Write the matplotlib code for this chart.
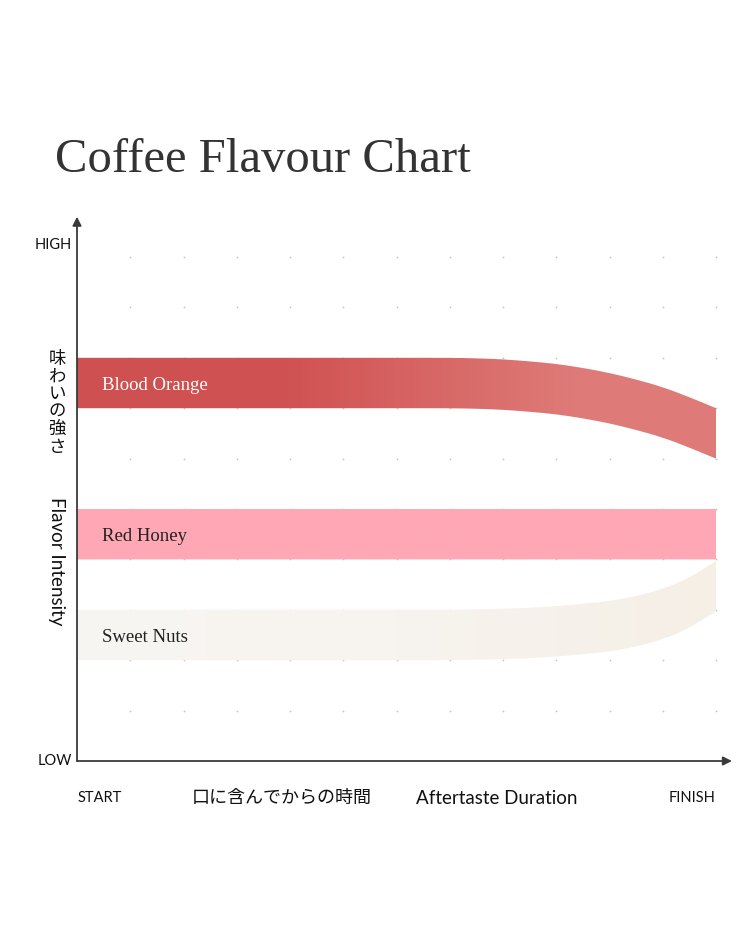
import numpy as np
import matplotlib
matplotlib.use("Agg")
import matplotlib.pyplot as plt
from matplotlib.colors import LinearSegmentedColormap
from matplotlib.path import Path
from matplotlib.patches import PathPatch

# data (x: 0 = start, 12 = finish; y: 0 = low, 10 = high)
x_flat = [0, 1, 2, 3, 4, 5, 6, 7]
x_curve = [7.5, 8, 8.5, 9, 9.5, 10, 10.5, 11, 11.5, 12]
x_pts = x_flat + x_curve

blood_orange_top = [8.0] * 8 + [7.99, 7.97, 7.93, 7.88, 7.80, 7.70, 7.57, 7.42, 7.22, 7.0]
red_honey_top = [5.0] * 18
sweet_nuts_top = [3.0] * 8 + [3.01, 3.02, 3.04, 3.07, 3.12, 3.17, 3.27, 3.41, 3.63, 3.97]

flavours = ["Blood Orange", "Red Honey", "Sweet Nuts"]
band_tops = [blood_orange_top, red_honey_top, sweet_nuts_top]
band_colors = [
    [(0.0, "#cf5050"), (0.33, "#d05252"), (0.78, "#de7b78"), (1.0, "#de7c79")],
    [(0.0, "#ffa8b5"), (1.0, "#ffa8b5")],
    [(0.0, "#f8f6f3"), (0.5, "#f7f3ee"), (1.0, "#f5efe6")],
]
label_colors = ["white", "#222222", "#222222"]
band_thickness = 1.0


def smooth_edge(xs, ys):
    # quadratic bezier through midpoints, using the readings as control points
    verts = [(xs[0], ys[0])]
    codes = []
    for i in range(1, len(xs) - 1):
        mid = ((xs[i] + xs[i + 1]) / 2, (ys[i] + ys[i + 1]) / 2)
        verts += [(xs[i], ys[i]), mid]
        codes += [Path.CURVE3, Path.CURVE3]
    verts.append((xs[-1], ys[-1]))
    codes.append(Path.LINETO)
    return verts, codes


def band_path(xs, top, thick):
    tv, tc = smooth_edge(xs, top)
    bot = [t - thick for t in top]
    bv, bc = smooth_edge(xs[::-1], bot[::-1])
    verts = tv + bv + [tv[0]]
    codes = [Path.MOVETO] + tc + [Path.LINETO] + bc + [Path.CLOSEPOLY]
    return Path(verts, codes)


W, H = 750, 938
fig = plt.figure(figsize=(W / 100, H / 100), dpi=100)
fig.patch.set_facecolor("white")

x_max, y_max = 12.3, 10.8
ax = fig.add_axes([77 / W, 177 / H, x_max * 53.25 / W, y_max * 50.4 / H])
ax.set_xlim(0, x_max)
ax.set_ylim(0, y_max)
ax.axis("off")

# dotted grid
gx, gy = np.meshgrid(np.arange(1, 13), np.arange(1, 11))
ax.scatter(gx.ravel(), gy.ravel(), s=1.6, color="#c4c4c4", linewidths=0, zorder=1)

# bands with horizontal gradients
for name, top, stops, lc in zip(flavours, band_tops, band_colors, label_colors):
    path = band_path(x_pts, top, band_thickness)
    patch = PathPatch(path, facecolor="none", edgecolor="none", transform=ax.transData)
    ax.add_patch(patch)
    cmap = LinearSegmentedColormap.from_list(name, stops)
    grad = np.linspace(0, 1, 256).reshape(1, -1)
    im = ax.imshow(grad, cmap=cmap, extent=[0, 12, 0, 10], aspect="auto",
                   interpolation="bilinear", zorder=2)
    im.set_clip_path(patch)
    ax.text(0.47, top[0] - band_thickness / 2 - 0.05, name, color=lc, fontsize=13.5,
            family="Liberation Serif", va="center", ha="left", zorder=3)

# axes with arrow heads
arrow = dict(arrowstyle="-|>", color="#3a3a3a", lw=1.3, mutation_scale=13,
             shrinkA=0, shrinkB=0)
ax.annotate("", xy=(0, y_max), xytext=(0, 0), arrowprops=arrow, annotation_clip=False)
ax.annotate("", xy=(x_max, 0), xytext=(0, 0), arrowprops=arrow, annotation_clip=False)

sans = ["Lato", "DejaVu Sans"]
jp = ["Noto Sans CJK JP", "DejaVu Sans"]


def ftxt(x, y, s, **kw):
    fig.text(x / W, 1 - y / H, s, **kw)


ftxt(55, 172, "Coffee Flavour Chart", family="Liberation Serif", fontsize=35,
     color="#333333", va="baseline")

ftxt(72, 245, "HIGH", family=sans, fontsize=10.5, ha="right", va="center", color="#111")
ftxt(72, 761, "LOW", family=sans, fontsize=10.5, ha="right", va="center", color="#111")
ftxt(78, 798, "START", family=sans, fontsize=10.5, ha="left", va="center", color="#111")
ftxt(716, 798, "FINISH", family=sans, fontsize=10.5, ha="right", va="center", color="#111")
ftxt(282, 798, "口に含んでからの時間", family=jp, fontsize=13, ha="center", va="center",
     color="#111")
ftxt(497, 798, "Aftertaste Duration", family=sans, fontsize=13.5, ha="center",
     va="center", color="#111")

ftxt(57, 403, "\n".join("味わいの強さ"), family=jp, fontsize=12.5, ha="center",
     va="center", color="#111", linespacing=0.98)
ftxt(56, 561, "Flavor Intensity", family=sans, fontsize=13.5, ha="center", va="center",
     rotation=-90, color="#111")

fig.savefig("out.png", dpi=100)
